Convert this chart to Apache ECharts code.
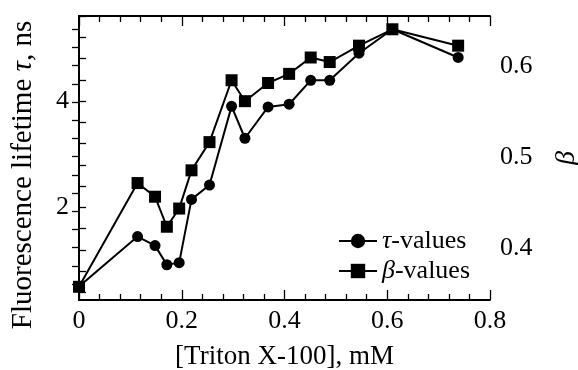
<!DOCTYPE html>
<html>
<head>
<meta charset="utf-8">
<script src="https://cdn.jsdelivr.net/npm/echarts@6/dist/echarts.min.js"></script>
<style>html,body{margin:0;padding:0;background:#fff}#c{width:578px;height:370px}</style>
</head>
<body>
<div id="c"></div>
<script>
// Data
var tritonConc = [0, 0.114, 0.148, 0.171, 0.195, 0.219, 0.254, 0.297, 0.323, 0.368, 0.409, 0.451, 0.488, 0.545, 0.610, 0.738];
var tauValues  = [0.51, 1.45, 1.28, 0.92, 0.96, 2.15, 2.42, 3.90, 3.30, 3.89, 3.94, 4.39, 4.39, 4.90, 5.35, 4.82];
var betaValues = [0.357, 0.471, 0.456, 0.423, 0.443, 0.485, 0.516, 0.584, 0.561, 0.581, 0.591, 0.609, 0.604, 0.622, 0.640, 0.622];
var tauTicks = [0.4, 0.8, 1.2, 1.6, 2, 2.4, 2.8, 3.2, 3.6, 4, 4.4, 4.8, 5.2, 5.6];
var tauTickLabels = [2, 4];
var betaTicks = [0.36, 0.38, 0.4, 0.42, 0.44, 0.46, 0.48, 0.5, 0.52, 0.54, 0.56, 0.58, 0.6, 0.62, 0.64];
var betaTickLabels = [0.4, 0.5, 0.6];
var xTickLabels = [0, 0.2, 0.4, 0.6, 0.8];

var FONT = 'Liberation Serif';
var tauData = tritonConc.map(function (x, i) { return [x, tauValues[i]]; });
var betaData = tritonConc.map(function (x, i) { return [x, betaValues[i]]; });

var chart = echarts.init(document.getElementById('c'), null, {renderer: 'canvas'});
var axisLine = {show: true, lineStyle: {color: '#000', width: 2}};
var tickStyle = {color: '#000', width: 1.3};
var labelStyle = {color: '#000', fontFamily: FONT, fontSize: 26};

chart.setOption({
  animation: false,
  backgroundColor: '#fff',
  grid: {left: 79, top: 16, right: 88, bottom: 70, containLabel: false, outerBoundsMode: 'none'},
  xAxis: [{
    type: 'value', position: 'bottom', min: 0, max: 0.8, interval: 0.2,
    axisLine: axisLine,
    axisTick: {show: true, inside: true, length: 10, lineStyle: tickStyle},
    minorTick: {show: true, splitNumber: 5, length: 6, lineStyle: tickStyle},
    axisLabel: Object.assign({margin: 8, customValues: xTickLabels, formatter: function (v) { return String(+v.toFixed(1)); }}, labelStyle),
    splitLine: {show: false}, minorSplitLine: {show: false},
    name: '[Triton X-100], mM', nameLocation: 'middle', nameGap: 43,
    nameTextStyle: {color: '#000', fontFamily: FONT, fontSize: 27}
  }, {
    type: 'value', position: 'top', min: 0, max: 0.8, interval: 0.2,
    axisLine: axisLine,
    axisTick: {show: true, inside: true, length: 10, lineStyle: tickStyle},
    minorTick: {show: true, splitNumber: 5, length: 6, lineStyle: tickStyle},
    axisLabel: {show: false},
    splitLine: {show: false}
  }],
  yAxis: [{
    type: 'value', position: 'left', min: 0.257, max: 5.6,
    axisLine: axisLine,
    axisTick: {show: true, inside: true, length: 7, lineStyle: tickStyle, customValues: tauTicks},
    axisLabel: Object.assign({margin: 10, customValues: tauTickLabels}, labelStyle),
    splitLine: {show: false}
  }, {
    type: 'value', position: 'right', min: 0.3425, max: 0.6546,
    axisLine: axisLine,
    axisTick: {show: true, inside: true, length: 7, lineStyle: tickStyle, customValues: betaTicks},
    axisLabel: Object.assign({margin: 10, customValues: betaTickLabels, formatter: function (v) { return v.toFixed(1); }}, labelStyle),
    splitLine: {show: false},
    name: 'β', nameLocation: 'middle', nameGap: 63,
    nameTextStyle: {color: '#000', fontFamily: FONT, fontSize: 28, fontStyle: 'italic'}
  }],
  legend: {
    orient: 'vertical', left: 333, top: 223,
    itemWidth: 38, itemHeight: 18, itemGap: 4,
    data: ['τ-values', 'β-values'],
    formatter: function (name) { return name === 'τ-values' ? '{i|τ}-values' : '{i|β}-values'; },
    textStyle: {color: '#000', fontFamily: FONT, fontSize: 26,
      rich: {i: {fontStyle: 'italic', fontFamily: FONT, fontSize: 26, color: '#000'}}}
  },
  graphic: [{
    type: 'text', x: 23, y: 175, rotation: Math.PI / 2,
    style: {
      text: 'Fluorescence lifetime {i|τ}, ns', fill: '#000',
      font: '29px "Liberation Serif"', align: 'center', verticalAlign: 'middle',
      rich: {i: {fontStyle: 'italic', fontFamily: FONT, fontSize: 29, fill: '#000'}}
    }
  }],
  series: [{
    name: 'τ-values', type: 'line', xAxisIndex: 0, yAxisIndex: 0, data: tauData,
    symbol: 'circle', symbolSize: 11,
    lineStyle: {color: '#000', width: 2}, itemStyle: {color: '#000'}
  }, {
    name: 'β-values', type: 'line', xAxisIndex: 0, yAxisIndex: 1, data: betaData,
    symbol: 'rect', symbolSize: 12,
    lineStyle: {color: '#000', width: 2}, itemStyle: {color: '#000'}
  }]
});
</script>
</body>
</html>
